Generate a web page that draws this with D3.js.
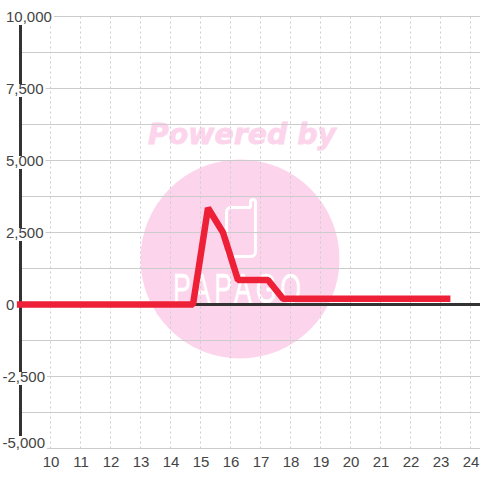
<!DOCTYPE html>
<html>
<head>
<meta charset="utf-8">
<script src="https://cdn.jsdelivr.net/npm/d3@7"></script>
<style>
  html, body { margin: 0; padding: 0; background: #fff; }
  svg { display: block; }
  text { font-family: "Liberation Sans", Arial, sans-serif; }
</style>
</head>
<body>
<div id="chart"></div>
<script>
// values
const hours = [8.88, 14.75, 15.25, 15.75, 16.25, 17.25, 17.75, 23.33];
const amounts = [0, 0, 3350, 2500, 850, 850, 200, 200];

const xTicks = [10, 11, 12, 13, 14, 15, 16, 17, 18, 19, 20, 21, 22, 23, 24];
const yTicks = [10000, 7500, 5000, 2500, 0, -2500, -5000];
const yGridTicks = [10000, 8750, 7500, 6250, 5000, 3750, 2500, 1250, 0, -1250, -2500, -3750, -5000];

const width = 480;
const height = 480;
const axisColor = "#333";
const labelColor = "#444";
const gridColor = "#ccc";
const lineColor = "#ee2037";
const markPink = "#fcd5ec";

const xScale = d3.scaleLinear().domain([9, 24]).range([20.5, 470.5]);
const yScale = d3.scaleLinear().domain([-5000, 10000]).range([448.5, 16.5]);

// plain hyphen for negatives, like the original labels
const numberFormat = d3.formatLocale({ decimal: ".", thousands: ",", grouping: [3], currency: ["", ""], minus: "-" }).format(",");

const svg = d3.select("#chart")
  .append("svg")
  .attr("width", width)
  .attr("height", height);

// watermark goes under everything else
const mark = svg.append("g").attr("class", "watermark");
mark.append("circle")
  .attr("cx", 240)
  .attr("cy", 259)
  .attr("r", 99.5)
  .attr("fill", markPink);
mark.append("text")
  .text("Powered by")
  .attr("x", 148)
  .attr("y", 144)
  .attr("textLength", 188)
  .attr("lengthAdjust", "spacingAndGlyphs")
  .style("font-family", "'DejaVu Sans', sans-serif")
  .style("font-weight", "bold")
  .style("font-style", "italic")
  .style("font-size", "28px")
  .attr("fill", markPink)
  .attr("stroke", markPink)
  .attr("stroke-width", 0.8);
mark.append("path")
  .attr("d", "M251 207.5H231a4.5 4.5 0 0 0 -4.5 4.5V252a4.5 4.5 0 0 0 4.5 4.5H251a4.5 4.5 0 0 0 4.5 -4.5V202a2.5 2.5 0 0 0 -5 0V207.5")
  .attr("fill", "none")
  .attr("stroke", "#fff")
  .attr("stroke-width", 3);
mark.append("text")
  .text("PAPAGO")
  .attr("x", 173)
  .attr("y", 303)
  .attr("textLength", 132)
  .attr("lengthAdjust", "spacingAndGlyphs")
  .style("font-size", "42px")
  .style("letter-spacing", "6px")
  .attr("fill", "#fff")
  .attr("stroke", "#fff")
  .attr("stroke-width", 0.4);

// vertical dotted grid
svg.append("g")
  .selectAll("line")
  .data(xTicks)
  .join("line")
    .attr("x1", d => xScale(d))
    .attr("x2", d => xScale(d))
    .attr("y1", yScale(10000))
    .attr("y2", yScale(-5000))
    .attr("stroke", gridColor)
    .attr("stroke-dasharray", "2,3");

// horizontal grid
svg.append("g")
  .selectAll("line")
  .data(yGridTicks)
  .join("line")
    .attr("x1", xScale(9))
    .attr("x2", width)
    .attr("y1", d => yScale(d))
    .attr("y2", d => yScale(d))
    .attr("stroke", gridColor);

// dark y axis line
svg.append("line")
  .attr("x1", xScale(9))
  .attr("x2", xScale(9))
  .attr("y1", yScale(10000))
  .attr("y2", yScale(-5000))
  .attr("stroke", axisColor)
  .attr("stroke-width", 3);

// zero line
svg.append("line")
  .attr("x1", xScale(9))
  .attr("x2", width)
  .attr("y1", yScale(0))
  .attr("y2", yScale(0))
  .attr("stroke", axisColor)
  .attr("stroke-width", 3);

// y labels, with white boxes that cut the grid and axis line
const bottomAxis = d3.axisBottom(xScale).tickValues(xTicks).tickSize(0).tickPadding(0);
const leftAxis = d3.axisLeft(yScale).tickValues(yTicks).tickSize(0).tickFormat(numberFormat);

const yAxisGroup = svg.append("g").call(leftAxis);
yAxisGroup.select(".domain").remove();
yAxisGroup.selectAll(".tick text")
  .attr("x", d => d < 0 ? 2.5 : 6)
  .attr("y", d => d === -5000 ? -6 : 0)
  .attr("dy", "0.33em")
  .attr("text-anchor", "start")
  .attr("fill", labelColor)
  .style("font-size", "15px")
  .style("font-family", "'Liberation Sans', Arial, sans-serif");
yAxisGroup.selectAll(".tick").each(function (d) {
  if (d === 0) return;
  const tick = d3.select(this);
  const box = tick.select("text").node().getBBox();
  const mid = d === -5000 ? -6.5 : 1.5;
  tick.insert("rect", "text")
    .attr("x", box.x - 1)
    .attr("y", mid - 6.5)
    .attr("width", box.width + 3)
    .attr("height", 13)
    .attr("fill", "#fff");
});

const xAxisGroup = svg.append("g").attr("transform", "translate(0,453)").call(bottomAxis);
xAxisGroup.select(".domain").remove();
xAxisGroup.selectAll(".tick text")
  .attr("y", 0)
  .attr("dy", "0.9em")
  .attr("fill", labelColor)
  .style("font-size", "15px")
  .style("font-family", "'Liberation Sans', Arial, sans-serif");

// data line
const lineGenerator = d3.line()
  .x((d, i) => xScale(hours[i]))
  .y(d => yScale(d));

svg.append("path")
  .attr("d", lineGenerator(amounts))
  .attr("fill", "none")
  .attr("stroke", lineColor)
  .attr("stroke-width", 6.5)
  .attr("stroke-linejoin", "bevel");
</script>
</body>
</html>
